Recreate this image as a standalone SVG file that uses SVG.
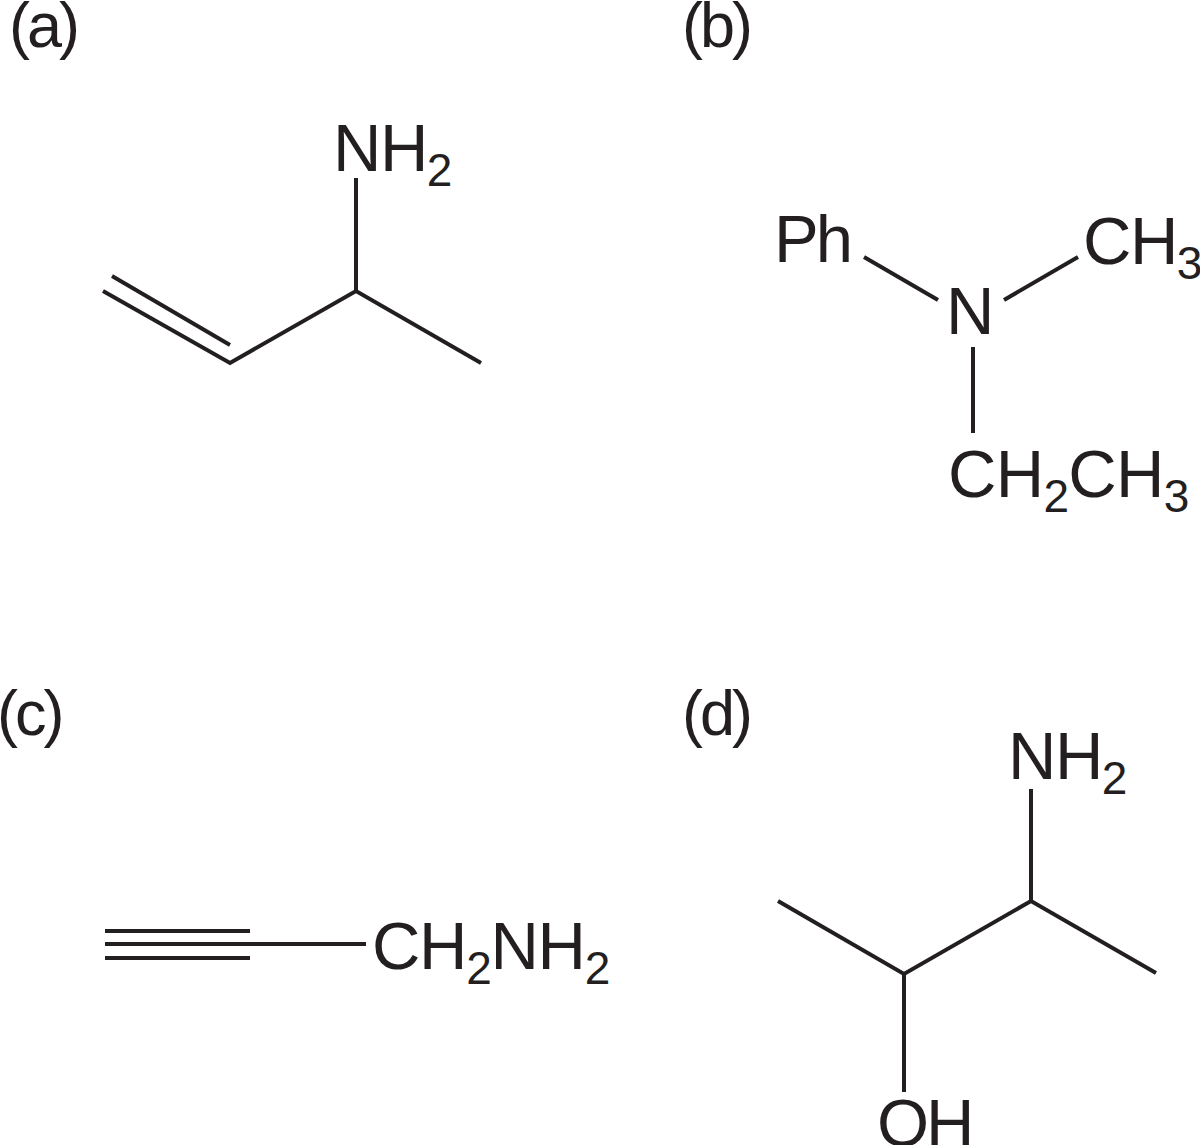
<svg xmlns="http://www.w3.org/2000/svg" width="1200" height="1145" viewBox="0 0 1200 1145">
<style>
text{font-family:"Liberation Sans",Arial,sans-serif;font-size:67px;fill:#231f20}
.l{font-size:63px;letter-spacing:-3px}
.s{font-size:46px}
line,polyline{stroke:#231f20;stroke-width:4;fill:none}
</style>
<rect width="1200" height="1145" fill="#fff"/>
<g id="labels">
<text class="l" x="9" y="47">(a)</text>
<text class="l" x="682" y="47">(b)</text>
<text class="l" x="-3" y="735">(c)</text>
<text class="l" x="682" y="735">(d)</text>
</g>
<g id="connectors">
<line x1="356" y1="178" x2="356" y2="291"/>
<polyline points="103,291 230,363 356,291 481,363"/>
<line x1="112" y1="276" x2="230" y2="345"/>
<line x1="864" y1="257" x2="938" y2="300"/>
<line x1="1004" y1="300" x2="1078" y2="257"/>
<line x1="973" y1="347" x2="973" y2="433"/>
<line x1="105" y1="931" x2="250" y2="931" stroke-width="4.5"/>
<line x1="105" y1="944" x2="366" y2="944" stroke-width="4.5"/>
<line x1="105" y1="958" x2="250" y2="958" stroke-width="4.5"/>
<polyline points="778,901 904,974 1031,901 1156,973"/>
<line x1="1031" y1="789" x2="1031" y2="901"/>
<line x1="904" y1="974" x2="904" y2="1092"/>
</g>
<g id="node-a-nh2"><text x="333" y="171" letter-spacing="-1.5">NH<tspan class="s" dy="15">2</tspan></text></g>
<g id="node-b-ph"><text x="774" y="262" letter-spacing="-3">Ph</text></g>
<g id="node-b-ch3"><text x="1083" y="264" letter-spacing="-1.5">CH<tspan class="s" dy="15">3</tspan></text></g>
<g id="node-b-n"><text x="946" y="334">N</text></g>
<g id="node-b-ch2ch3"><text x="948" y="497" letter-spacing="-0.7">CH<tspan class="s" dy="15">2</tspan><tspan dy="-15">CH</tspan><tspan class="s" dy="15">3</tspan></text></g>
<g id="node-c-ch2nh2"><text x="372" y="969" letter-spacing="-1.3">CH<tspan class="s" dy="15">2</tspan><tspan dy="-15">NH</tspan><tspan class="s" dy="15">2</tspan></text></g>
<g id="node-d-nh2"><text x="1008" y="779" letter-spacing="-1.5">NH<tspan class="s" dy="15">2</tspan></text></g>
<g id="node-d-oh"><text x="877" y="1146" letter-spacing="-3">OH</text></g>
</svg>
